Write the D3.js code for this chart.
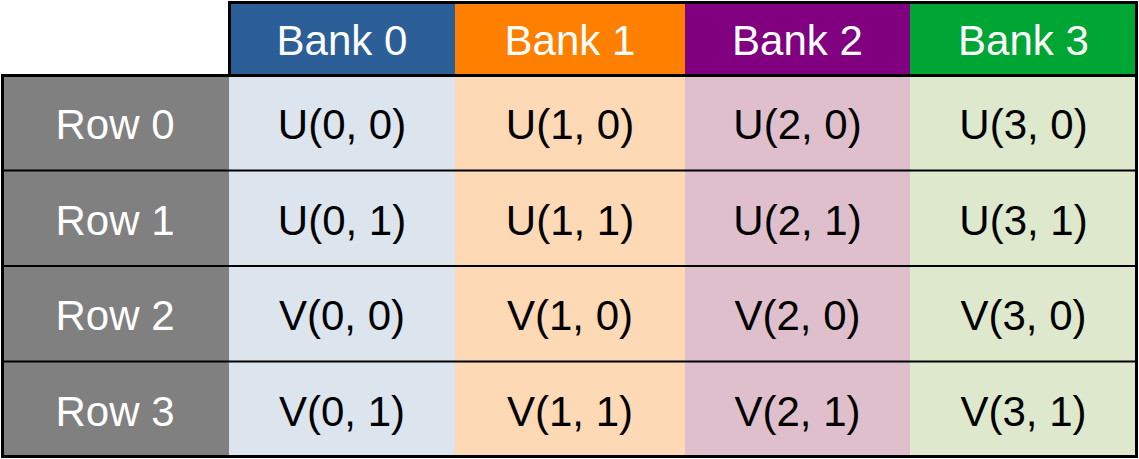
<!DOCTYPE html><html><head><script src="https://cdn.jsdelivr.net/npm/d3@7"></script>
<style>body{margin:0;background:#fff}</style></head><body><svg id="c" width="1139" height="459"></svg>
<script>
const banks=["Bank 0","Bank 1","Bank 2","Bank 3"];
const rows=["Row 0","Row 1","Row 2","Row 3"];
const cellLabels=[["U(0, 0)","U(1, 0)","U(2, 0)","U(3, 0)"],["U(0, 1)","U(1, 1)","U(2, 1)","U(3, 1)"],["V(0, 0)","V(1, 0)","V(2, 0)","V(3, 0)"],["V(0, 1)","V(1, 1)","V(2, 1)","V(3, 1)"]];
const headColors=["#2c5f98","#ff7f00","#800080","#00a633"];
const lightColors=["#dce4ed","#fdd9b5","#dfbfcc","#dde8cd"];
const svg=d3.select("#c");
const xEdges=[229,455,685,910,1137];
const x=i=>xEdges[i], w=i=>xEdges[i+1]-xEdges[i];
const y=d3.scaleBand().domain(rows).range([75,457]);
const font="Liberation Sans, Arial, sans-serif";
// header
banks.forEach((b,i)=>{
 svg.append("rect").attr("x",x(i)).attr("y",2).attr("width",w(i)).attr("height",73).attr("fill",headColors[i]);
 svg.append("text").attr("x",x(i)+w(i)/2).attr("y",40).attr("text-anchor","middle").attr("dominant-baseline","central").attr("fill","#fff").attr("font-family",font).attr("font-size",42).text(b);
});
rows.forEach((r,j)=>{
 svg.append("rect").attr("x",2).attr("y",y(r)).attr("width",227).attr("height",y.bandwidth()).attr("fill","#808080");
 svg.append("text").attr("x",115).attr("y",y(r)+y.bandwidth()/2+2).attr("text-anchor","middle").attr("dominant-baseline","central").attr("fill","#fff").attr("font-family",font).attr("font-size",42).text(r);
 banks.forEach((b,i)=>{
  svg.append("rect").attr("x",x(i)).attr("y",y(r)).attr("width",w(i)).attr("height",y.bandwidth()).attr("fill",lightColors[i]);
  svg.append("text").attr("x",x(i)+w(i)/2).attr("y",y(r)+y.bandwidth()/2+2).attr("text-anchor","middle").attr("dominant-baseline","central").attr("fill","#000").attr("font-family",font).attr("font-size",42).text(cellLabels[j][i]);
 });
 if(j>0) svg.append("line").attr("x1",2).attr("x2",1137).attr("y1",y(r)).attr("y2",y(r)).attr("stroke","#000").attr("stroke-width",2);
});
svg.append("rect").attr("x",229.5).attr("y",2.5).attr("width",907).attr("height",73).attr("fill","none").attr("stroke","#000").attr("stroke-width",3);
svg.append("rect").attr("x",2.5).attr("y",75.5).attr("width",1134).attr("height",381).attr("fill","none").attr("stroke","#000").attr("stroke-width",3);
</script></body></html>
